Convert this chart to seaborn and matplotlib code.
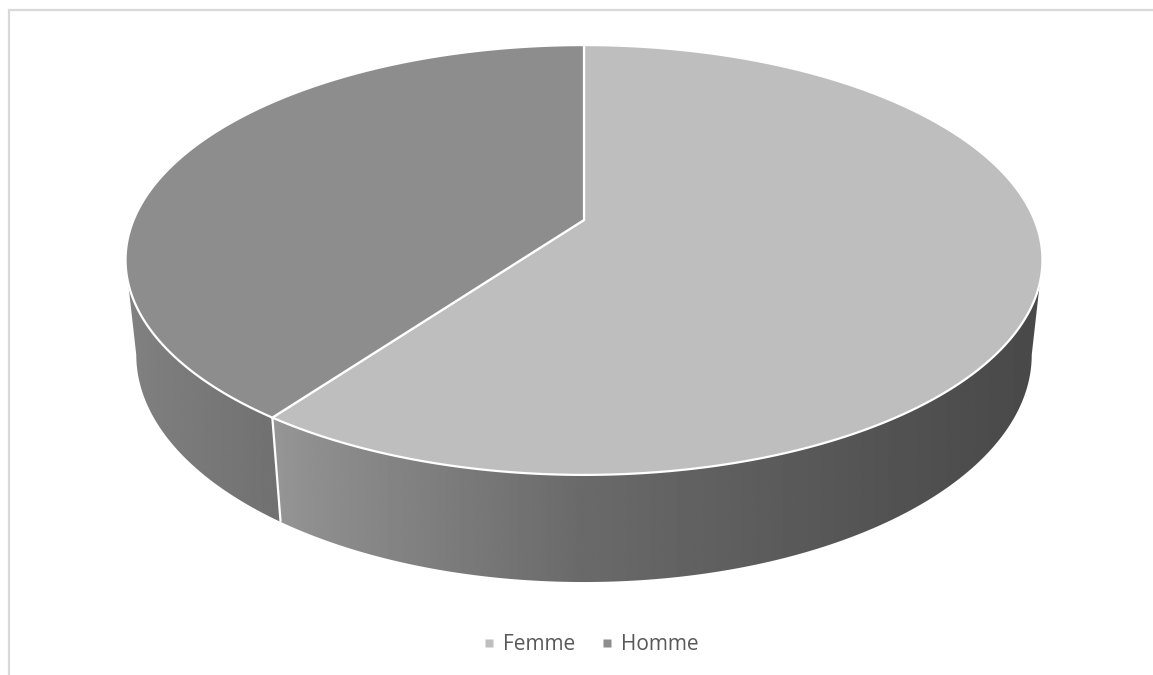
import numpy as np
import matplotlib
matplotlib.use("Agg")
import matplotlib.pyplot as plt
import seaborn as sns
from matplotlib.patches import Polygon
from matplotlib.lines import Line2D

# ---- data ----
categories = ["Femme", "Homme"]
values = [60, 40]
top_colors = ["#BEBEBE", "#8D8D8D"]

sns.set_theme(style="white")
plt.rcParams['font.family'] = ['Open Sans', 'DejaVu Sans']

W, H = 1153, 675
fig = plt.figure(figsize=(W / 100, H / 100), dpi=100)
ax = fig.add_axes([0, 0, 1, 1])
ax.set_xlim(0, W)
ax.set_ylim(H, 0)
ax.axis('off')

# ---- perspective projection of a 3D disc ----
CX, CY = 584.0, 220.0
R = 0.2096
PHI = np.arcsin(0.4606)
T = 0.0501
F = 2149.0


def proj(theta, h):
    x = R * np.sin(theta)
    v = -R * np.cos(theta)
    z = 1.0 - v * np.cos(PHI) - h * np.sin(PHI)
    sx = CX + F * x / z
    up = F * (-v * np.sin(PHI) + h * np.cos(PHI)) / z
    return sx, CY - up


grid = np.linspace(0, 2 * np.pi, 7201)


def silhouettes(h):
    sx, _ = proj(grid, h)
    half = len(grid) // 2
    r = grid[np.argmax(sx[:half])]
    l = grid[half + np.argmin(sx[half:])]
    return r, l


sil_top = silhouettes(0.0)
sil_bot = silhouettes(-T)

fracs = np.array(values, dtype=float) / np.sum(values)
bounds = np.concatenate([[0], np.cumsum(fracs)]) * 2 * np.pi

# side shading stops (x pixel -> gray level)
side_stops = {
    "Femme": ([270, 310, 580, 870, 1000, 1050], [0x97, 0x8F, 0x6A, 0x54, 0x4B, 0x4A]),
    "Homme": ([120, 150, 275], [0x83, 0x7E, 0x71]),
}

# ---- sides ----
for i, cat in enumerate(categories):
    a0, a1 = bounds[i], bounds[i + 1]
    t0, t1 = max(a0, sil_top[0]), min(a1, sil_top[1])
    b0, b1 = max(a0, sil_bot[0]), min(a1, sil_bot[1])
    if t1 <= t0 or b1 <= b0:
        continue
    tt = np.linspace(t0, t1, 400)
    bb = np.linspace(b1, b0, 400)
    xt, yt = proj(tt, 0.0)
    xb, yb = proj(bb, -T)
    pts = np.column_stack([np.concatenate([xt, xb]), np.concatenate([yt, yb])])
    poly = Polygon(pts, closed=True, facecolor='none', edgecolor='none')
    ax.add_patch(poly)
    xmin, xmax = pts[:, 0].min() - 2, pts[:, 0].max() + 2
    ymin, ymax = pts[:, 1].min() - 2, pts[:, 1].max() + 2
    xs = np.linspace(xmin, xmax, 600)
    sx, sv = side_stops[cat]
    row = np.interp(xs, sx, sv) / 255.0
    img = np.tile(row, (4, 1))
    im = ax.imshow(img, extent=(xmin, xmax, ymax, ymin), cmap='gray', vmin=0, vmax=1,
                   aspect='auto', interpolation='bilinear', zorder=1)
    im.set_clip_path(poly)

# seams on the side
for b in bounds[1:-1]:
    if sil_top[0] < b < sil_top[1]:
        x0, y0 = proj(b, 0.0)
        x1, y1 = proj(b, -T)
        ax.plot([x0, x1], [y0, y1], color='white', lw=1.6, zorder=2,
                solid_capstyle='butt')

# ---- tops ----
for i, cat in enumerate(categories):
    a0, a1 = bounds[i], bounds[i + 1]
    tt = np.linspace(a0, a1, 600)
    xt, yt = proj(tt, 0.0)
    pts = np.column_stack([np.concatenate([[CX], xt]), np.concatenate([[CY], yt])])
    ax.add_patch(Polygon(pts, closed=True, facecolor=top_colors[i], edgecolor='white',
                         lw=1.6, joinstyle='miter', zorder=3))

# ---- chart border ----
ax.plot([8.5, 8.5, W + 5], [H + 5, 9.5, 9.5], color='#D9D9D9', lw=1.6, zorder=0,
        solid_joinstyle='miter')

# ---- legend ----
handles = [Line2D([], [], marker='s', linestyle='none', markersize=5.5,
                  markerfacecolor=c, markeredgecolor='none') for c in top_colors]
fig.legend(handles, categories, loc='center', bbox_to_anchor=(589 / W, 1 - 645 / H),
           ncol=2, frameon=False, fontsize=15, labelcolor='#595959',
           handletextpad=0.2, columnspacing=1.1, handlelength=0.9)

fig.savefig("out.png", dpi=100)
